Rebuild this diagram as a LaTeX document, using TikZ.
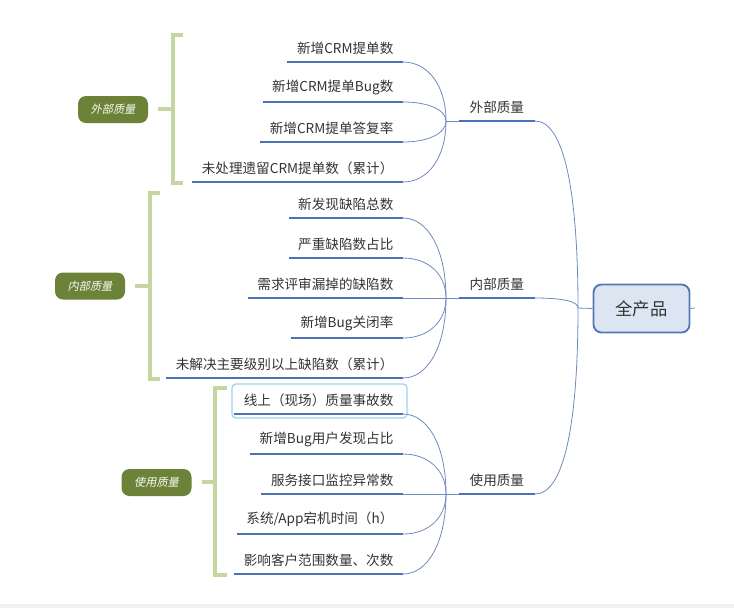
\documentclass[tikz,border=0pt]{standalone}
\usepackage{fontspec}
\setmainfont{Noto Sans CJK SC}
\newfontfamily\cjkinclinada{Noto Sans CJK SC}[FakeSlant=0.2]
\usetikzlibrary{calc, positioning}
\definecolor{azulraya}{HTML}{4A72B5}
\definecolor{azulcurva}{HTML}{6F89BF}
\definecolor{azulcaja}{HTML}{DCE6F2}
\definecolor{azulborde}{HTML}{5477B6}
\definecolor{verdeoliva}{HTML}{6C8238}
\definecolor{verdeclaro}{HTML}{C6D6A1}
\definecolor{textogris}{HTML}{333333}
\tikzset{
    hoja/.style={anchor=south east, inner xsep=7pt, inner ysep=5.5pt, text=textogris,
        font=\fontsize{10.2}{12}\selectfont},
    rama/.style={hoja, inner xsep=8pt},
    subraya/.style={azulraya, line width=2.2pt},
    conector/.style={azulcurva, line width=0.6pt},
    corchete/.style={verdeclaro, line width=3.6pt},
    etiqueta/.style={fill=verdeoliva, rounded corners=6pt, text=white!88!verdeclaro,
        minimum width=52.5pt, minimum height=20.25pt, inner sep=0pt,
        font=\cjkinclinada\fontsize{8.4}{10}\selectfont},
    centro/.style={draw=azulborde, fill=azulcaja, line width=1.4pt, rounded corners=6pt,
        minimum width=72pt, minimum height=36pt, text=textogris,
        font=\fontsize{13}{15}\selectfont},
}

\begin{document}
\begin{tikzpicture}[x=0.75pt, y=-0.75pt]
\useasboundingbox (0,0) rectangle (734,608);
\fill[black!6] (0,604) rectangle (734,608);
% centro
\node[centro] (todo) at (641.5,308.5) {全产品};
\coordinate (fanTodo) at (578,308);
\coordinate (cola) at (695,308);
\draw[conector] (fanTodo) -- (todo.west);
\draw[conector] (todo.east) -- (cola);
% ramas
\node[rama] (ext) at (535,121) {外部质量};
\node[rama] (int) at (535,298) {内部质量};
\node[rama] (uso) at (535,494) {使用质量};
\foreach \r/\y in {ext/121, int/298, uso/494} {
    \draw[subraya] (\r.south west) -- (\r.south east);
    \draw[conector] (\r.south east) .. controls +(30,0) and ($(fanTodo)+(0,{0.6*(\y-308)})$) .. (fanTodo);
    \coordinate (fan-\r) at (446,\y);
    \draw[conector] (fan-\r) -- (\r.south west);
}
% seleccion
\draw[cyan!30!azulcaja, line width=1pt, rounded corners=3pt] (232,384) rectangle (407,418);
% hojas: externo
\foreach \y/\t [count=\i] in {62/{新增CRM提单数}, 102/{新增CRM提单Bug数}, 142/{新增CRM提单答复率},
    182/{未处理遗留CRM提单数（累计）}} {
    \node[hoja] (ext\i) at (403,\y) {\t};
    \draw[subraya] (ext\i.south west) -- (ext\i.south east);
    \draw[conector] (ext\i.south east) .. controls +(25,0) and ($(fan-ext)+(0,{0.6*(\y-121)})$) .. (fan-ext);
}
% hojas: interno
\foreach \y/\t [count=\i] in {218/{新发现缺陷总数}, 258/{严重缺陷数占比}, 298/{需求评审漏掉的缺陷数},
    338/{新增Bug关闭率}, 378/{未解决主要级别以上缺陷数（累计）}} {
    \node[hoja] (int\i) at (403,\y) {\t};
    \draw[subraya] (int\i.south west) -- (int\i.south east);
    \draw[conector] (int\i.south east) .. controls +(25,0) and ($(fan-int)+(0,{0.6*(\y-298)})$) .. (fan-int);
}
% hojas: uso
\foreach \y/\t [count=\i] in {414/{线上（现场）质量事故数}, 454/{新增Bug用户发现占比}, 494/{服务接口监控异常数},
    534/{系统/App宕机时间（h）}, 574/{影响客户范围数量、次数}} {
    \node[hoja] (uso\i) at (403,\y) {\t};
    \draw[subraya] (uso\i.south west) -- (uso\i.south east);
    \draw[conector] (uso\i.south east) .. controls +(25,0) and ($(fan-uso)+(0,{0.6*(\y-494)})$) .. (fan-uso);
}
% corchetes
\draw[corchete] (183,35) -- (173,35) -- (173,183) -- (183,183);
\draw[corchete] (158,109) -- (173,109);
\node[etiqueta] (lext) at (113,109.5) {外部质量};
\draw[corchete] (160,193) -- (150,193) -- (150,379) -- (160,379);
\draw[corchete] (135,286) -- (150,286);
\node[etiqueta] (lint) at (90,286) {内部质量};
\draw[corchete] (227,388) -- (215,388) -- (215,575) -- (227,575);
\draw[corchete] (202,482) -- (215,482);
\node[etiqueta] (luso) at (156.5,482.5) {使用质量};
\end{tikzpicture}
\end{document}
